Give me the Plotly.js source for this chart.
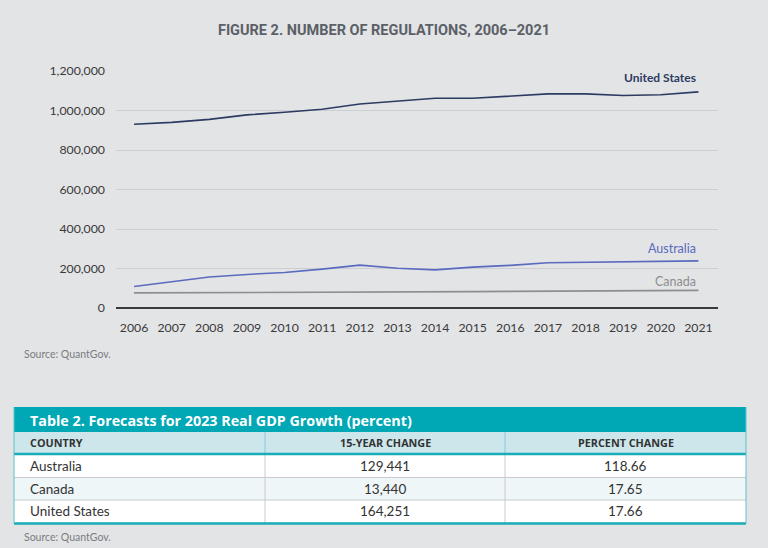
<!DOCTYPE html>
<html>
<head>
<meta charset="utf-8">
<script src="https://cdn.plot.ly/plotly-3.0.1.min.js"></script>
<style>
  html, body { margin: 0; padding: 0; background: #e3e4e6; }
  #chart { width: 768px; height: 548px; }
</style>
</head>
<body>
<div id="chart"></div>
<script>
// ---- Figure 2 data (number of regulations) ----
const years = [2006, 2007, 2008, 2009, 2010, 2011, 2012, 2013, 2014, 2015, 2016, 2017, 2018, 2019, 2020, 2021];
const unitedStates = [930074, 940000, 955000, 978000, 991000, 1006000, 1033000, 1047000, 1062000, 1062000, 1074000, 1084000, 1084000, 1076000, 1080000, 1094325];
const australia = [109087, 134000, 157000, 170000, 180000, 197000, 217000, 201000, 193000, 207000, 216000, 229000, 232000, 235000, 236000, 238528];
const canada = [76147, 76500, 77000, 77500, 78000, 78500, 79500, 80500, 81500, 82500, 84000, 84500, 85500, 86500, 87500, 89587];
const seriesNames = ["United States", "Australia", "Canada"];
const yTicks = [0, 200000, 400000, 600000, 800000, 1000000, 1200000];

// ---- Table 2 data ----
const tableTitle = "Table 2. Forecasts for 2023 Real GDP Growth (percent)";
const tableHeaders = ["COUNTRY", "15-YEAR CHANGE", "PERCENT CHANGE"];
const tableCountries = ["Australia", "Canada", "United States"];
const fifteenYearChange = ["129,441", "13,440", "164,251"];
const percentChange = ["118.66", "17.65", "17.66"];
const sourceNote = "Source: QuantGov.";

const W = 768, H = 548;
const px = v => v / W;
const py = v => 1 - v / H;

const colors = { us: "#2c3b62", au: "#5a6abf", ca: "#8e8e8e" };
const font = "Lato, 'Open Sans', sans-serif";
const tableFont = "'Open Sans', sans-serif";

const lineTrace = (y, name, color, width) => ({
  type: "scatter", mode: "lines", x: years, y: y, name: name,
  line: { color: color, width: width }, hoverinfo: "x+y+name",
  xaxis: "x", yaxis: "y"
});

const traces = [
  lineTrace(canada, seriesNames[2], colors.ca, 1.7),
  lineTrace(australia, seriesNames[1], colors.au, 1.6),
  lineTrace(unitedStates, seriesNames[0], colors.us, 1.6)
];

const lastIdx = years.length - 1;

// ---- table geometry (pixels) ----
const tX = [14, 265, 505, 746];             // column boundaries
const tTitle = [407, 432];
const tHead = [432, 453];
const rowTop = 455, rowH = 22.5;
const tBottom = rowTop + rowH * tableCountries.length;
const rowFills = ["#ffffff", "#eef6f8", "#ffffff"];
const tableColumns = [tableCountries, fifteenYearChange, percentChange];
const colAlign = ["left", "center", "center"];
const colTextX = c => colAlign[c] === "left" ? tX[c] + 14 : (tX[c] + tX[c + 1]) / 2;

const shapes = [];
const annotations = [];

// title bar
shapes.push({ type: "rect", xref: "paper", yref: "paper", x0: px(tX[0]), x1: px(tX[3]), y0: py(tTitle[1]), y1: py(tTitle[0]),
  fillcolor: "#00a7b5", line: { width: 0 }, layer: "below" });
annotations.push({ x: px(28), y: py(420), xref: "paper", yref: "paper", text: "<b>" + tableTitle + "</b>",
  showarrow: false, xanchor: "left", yanchor: "middle", font: { family: tableFont, size: 14.3, color: "#ffffff" } });
// header
shapes.push({ type: "rect", xref: "paper", yref: "paper", x0: px(tX[0]), x1: px(tX[3]), y0: py(tHead[1]), y1: py(tHead[0]),
  fillcolor: "#cde6ec", line: { width: 0 }, layer: "below" });
tableHeaders.forEach((h, c) => {
  annotations.push({ x: px(colTextX(c)), y: py((tHead[0] + tHead[1]) / 2), xref: "paper", yref: "paper",
    text: "<b>" + h + "</b>", showarrow: false, xanchor: colAlign[c] === "left" ? "left" : "center", yanchor: "middle",
    font: { family: tableFont, size: 10.8, color: "#333333" } });
});
// body rows
tableCountries.forEach((_, r) => {
  const top = rowTop + r * rowH;
  shapes.push({ type: "rect", xref: "paper", yref: "paper", x0: px(tX[0]), x1: px(tX[3]), y0: py(top + rowH), y1: py(top),
    fillcolor: rowFills[r], line: { width: 0 }, layer: "below" });
  if (r > 0) {
    shapes.push({ type: "line", xref: "paper", yref: "paper", x0: px(tX[0]), x1: px(tX[3]), y0: py(top), y1: py(top),
      line: { color: "#c9cbce", width: 1 }, layer: "below" });
  }
  tableColumns.forEach((col, c) => {
    annotations.push({ x: px(colTextX(c)), y: py(top + rowH / 2), xref: "paper", yref: "paper",
      text: col[r], showarrow: false, xanchor: colAlign[c] === "left" ? "left" : "center", yanchor: "middle",
      font: { family: font, size: 13.5, color: "#333333" } });
  });
});
// column separators
[1, 2].forEach(c => {
  shapes.push({ type: "line", xref: "paper", yref: "paper", x0: px(tX[c]), x1: px(tX[c]), y0: py(tHead[1]), y1: py(tHead[0]),
    line: { color: "#86cdd6", width: 1 }, layer: "below" });
  shapes.push({ type: "line", xref: "paper", yref: "paper", x0: px(tX[c]), x1: px(tX[c]), y0: py(tBottom), y1: py(rowTop),
    line: { color: "#c9cbce", width: 1 }, layer: "below" });
});
// teal rules and outer edges
shapes.push({ type: "line", xref: "paper", yref: "paper", x0: px(tX[0]), x1: px(tX[3]), y0: py(454), y1: py(454),
  line: { color: "#18abb8", width: 2.5 }, layer: "below" });
shapes.push({ type: "line", xref: "paper", yref: "paper", x0: px(tX[0]), x1: px(tX[3]), y0: py(tBottom + 1), y1: py(tBottom + 1),
  line: { color: "#18abb8", width: 2.5 }, layer: "below" });
[0, 3].forEach(c => {
  shapes.push({ type: "line", xref: "paper", yref: "paper", x0: px(tX[c]), x1: px(tX[c]), y0: py(tBottom + 1), y1: py(tTitle[0]),
    line: { color: "#5cc2cc", width: 1 }, layer: "below" });
});

// series labels
annotations.push(
  { x: years[lastIdx], y: unitedStates[lastIdx], xref: "x", yref: "y", text: "<b>" + seriesNames[0] + "</b>",
    showarrow: false, xanchor: "right", yanchor: "bottom", yshift: 5, font: { size: 12, color: colors.us } },
  { x: years[lastIdx], y: australia[lastIdx], xref: "x", yref: "y", text: seriesNames[1],
    showarrow: false, xanchor: "right", yanchor: "bottom", yshift: 3, font: { size: 12.5, color: colors.au } },
  { x: years[lastIdx], y: canada[lastIdx], xref: "x", yref: "y", text: seriesNames[2],
    showarrow: false, xanchor: "right", yanchor: "bottom", yshift: -1, font: { size: 12.5, color: colors.ca } },
  { x: px(22), y: py(354), xref: "paper", yref: "paper", text: sourceNote,
    showarrow: false, xanchor: "left", yanchor: "middle", font: { size: 10.5, color: "#7a7c80" } },
  { x: px(22), y: py(537), xref: "paper", yref: "paper", text: sourceNote,
    showarrow: false, xanchor: "left", yanchor: "middle", font: { size: 10.5, color: "#7a7c80" } }
);

const layout = {
  width: W, height: H,
  margin: { l: 0, r: 0, t: 0, b: 0 },
  paper_bgcolor: "#e3e4e6",
  plot_bgcolor: "rgba(0,0,0,0)",
  showlegend: false,
  font: { family: font, size: 12, color: "#3a3a3a" },
  title: {
    text: "<b>FIGURE 2. NUMBER OF REGULATIONS, 2006–2021</b>",
    x: 0.5, xanchor: "center", y: py(30), yanchor: "middle",
    font: { family: "Roboto, sans-serif", size: 14.5, color: "#5b6067" }
  },
  xaxis: {
    domain: [px(116), px(718)],
    range: [2005.52, 2021.52],
    tickmode: "array", tickvals: years, ticktext: years.map(String),
    showgrid: false, zeroline: false, showline: false,
    ticks: "", ticklabelstandoff: 11, tickfont: { size: 12.3, color: "#3a3a3a" },
    automargin: false, fixedrange: true
  },
  yaxis: {
    domain: [py(308), py(71)],
    range: [0, 1200000],
    tickmode: "array", tickvals: yTicks,
    ticktext: yTicks.map(v => v.toLocaleString("en-US")),
    showgrid: true, gridcolor: "#cdced1", gridwidth: 1,
    zeroline: true, zerolinecolor: "#3a3a3a", zerolinewidth: 2,
    showline: false, ticks: "", ticklabelstandoff: 10,
    tickfont: { size: 12.3, color: "#3a3a3a" },
    automargin: false, fixedrange: true
  },
  annotations: annotations,
  shapes: shapes
};

Plotly.newPlot("chart", traces, layout, { displayModeBar: false, staticPlot: true });
</script>
</body>
</html>
